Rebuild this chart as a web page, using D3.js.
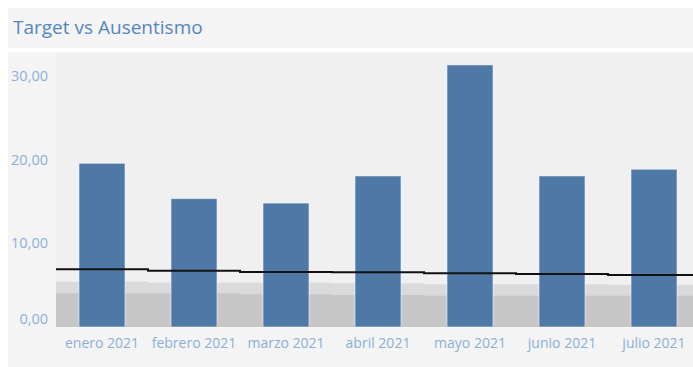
<!DOCTYPE html>
<html>
<head>
<meta charset="utf-8">
<script src="https://cdn.jsdelivr.net/npm/d3@7"></script>
<style>
  html, body { margin: 0; padding: 0; background: #ffffff; }
  svg { display: block; }
  text { font-family: "Open Sans", "Noto Sans", sans-serif; }
</style>
</head>
<body>
<svg id="chart" width="693" height="367"></svg>
<script>
// Monthly absenteeism vs target
const months = ["enero 2021", "febrero 2021", "marzo 2021", "abril 2021", "mayo 2021", "junio 2021", "julio 2021"];
const ausentismo = [19.55, 15.33, 14.8, 18.04, 31.3, 18.04, 18.84];
const target = [6.89, 6.73, 6.57, 6.55, 6.42, 6.33, 6.21];
const bandUpper = [5.41, 5.29, 5.29, 5.22, 5.1, 5.1, 5.02];
const bandLower = [4.03, 4.03, 3.9, 3.82, 3.74, 3.74, 3.74];
const yTicks = [0, 10, 20, 30];

const W = 693, H = 367;
const svg = d3.select("#chart");

const plot = { left: 56, right: 700, top: 53, bottom: 327 };

// Dashboard panels
svg.append("rect").attr("x", 8).attr("y", 8).attr("width", W - 8).attr("height", 40).attr("fill", "#f4f4f4");
svg.append("rect").attr("x", 8).attr("y", 52).attr("width", W - 8).attr("height", H - 52).attr("fill", "#f4f4f4");
svg.append("rect").attr("x", plot.left).attr("y", plot.top)
  .attr("width", plot.right - plot.left).attr("height", plot.bottom - plot.top).attr("fill", "#f0f0f0");

svg.append("text").attr("x", 13).attr("y", 34)
  .attr("font-size", 19).attr("font-weight", 500).attr("fill", "#5586c0")
  .text("Target vs Ausentismo");

const x = d3.scaleBand().domain(months).range([plot.left, plot.right])
  .paddingInner(0.5).paddingOuter(0.25);
const y = d3.scaleLinear().domain([0, 30]).range([plot.bottom, 75.8]);

const fmt = d3.formatLocale({ decimal: ",", thousands: ".", grouping: [3], currency: ["", "€"] }).format(",.2f");

// Step bounds for each month: full band width
const stepX0 = (m) => x(m) - x.step() * x.paddingInner() / 2;
const stepX1 = (m) => x(m) + x.bandwidth() + x.step() * x.paddingInner() / 2;

// Reference bands (stacked grey areas)
const g = svg.append("g");
months.forEach((m, i) => {
  g.append("rect").attr("x", stepX0(m)).attr("width", stepX1(m) - stepX0(m))
    .attr("y", y(bandUpper[i])).attr("height", y(0) - y(bandUpper[i])).attr("fill", "#dadada");
  g.append("rect").attr("x", stepX0(m)).attr("width", stepX1(m) - stepX0(m))
    .attr("y", y(bandLower[i])).attr("height", y(0) - y(bandLower[i])).attr("fill", "#c6c6c6");
});

// Bars
svg.append("g").selectAll("rect").data(months).join("rect")
  .attr("x", d => x(d)).attr("width", x.bandwidth())
  .attr("y", (d, i) => y(ausentismo[i]))
  .attr("height", (d, i) => y(0) - y(ausentismo[i]))
  .attr("fill", "#4e78a6")
  .attr("stroke", "rgba(255,255,255,0.55)").attr("stroke-width", 1);

// Target stepped line
const pts = [];
months.forEach((m, i) => { pts.push([stepX0(m), y(target[i])]); pts.push([stepX1(m), y(target[i])]); });
svg.append("path").attr("d", d3.line()(pts))
  .attr("fill", "none").attr("stroke", "#111").attr("stroke-width", 2);

// Y axis labels
svg.append("g").selectAll("text").data(yTicks).join("text")
  .attr("x", 48).attr("y", d => Math.min(y(d), 318.5)).attr("dy", "0.36em")
  .attr("text-anchor", "end").attr("font-size", 14.5).attr("fill", "#8ab0d8")
  .text(d => fmt(d));

// X axis labels
svg.append("g").selectAll("text").data(months).join("text")
  .attr("x", d => x(d) + x.bandwidth() / 2).attr("y", 348)
  .attr("text-anchor", "middle").attr("font-size", 14).attr("fill", "#8ab0d8")
  .text(d => d);
</script>
</body>
</html>
